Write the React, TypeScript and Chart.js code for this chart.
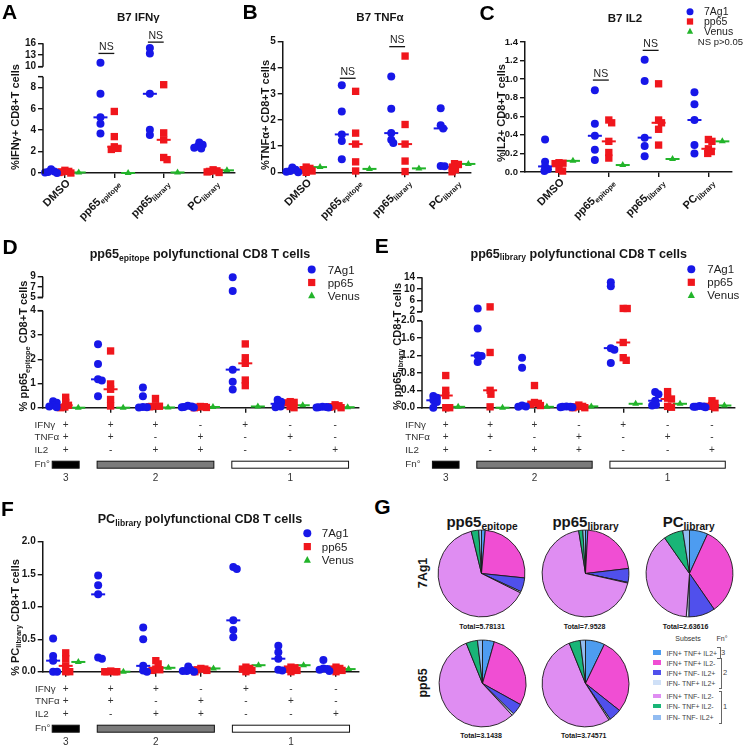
import React, { useEffect, useRef } from 'react';
import { Chart, registerables } from 'chart.js';
Chart.register(...registerables);

const FONT = '"Liberation Sans", Arial, Helvetica, sans-serif';
const INK = '#161616';
const BLUE = '#1717e8';
const RED = '#f0161c';
const GREEN = '#22b42a';

// ---------------- data ----------------
const seriesNames = ['7Ag1', 'pp65', 'Venus'];
const stimuli = ['DMSO', 'pp65~epitope~', 'pp65~library~', 'PC~library~'];

// Panel A – IFNγ
const ifngAg = [[0.35, 0.15, 0.1, 0.05, 0.0], [11.0, 7.4, 5.2, 4.6, 3.7], [14.8, 13.4, 7.4, 4.05, 3.55], [2.85, 2.65, 2.5, 2.35, 2.3]];
const ifngPp = [[0.25, 0.15, 0.1, 0.05, 0.0], [5.75, 3.4, 2.45, 2.3, 2.2], [8.25, 3.75, 3.1, 1.45, 1.25], [0.3, 0.2, 0.15, 0.1, 0.05]];
const ifngVe = [0.05, 0.0, 0.05, 0.25];
const nsIfng = [13.4, 16.3];
// Panel B – TNFα
const tnfAg = [[0.18, 0.1, 0.05, 0.02, 0.0], [3.33, 2.33, 1.45, 1.2, 0.5], [3.67, 2.43, 1.5, 1.25, 1.12], [2.45, 1.8, 1.68, 0.24, 0.23]];
const tnfPp = [[0.2, 0.15, 0.1, 0.05, 0.0], [3.1, 1.5, 1.08, 0.4, 0.05], [4.45, 1.83, 1.08, 0.43, 0.03], [0.33, 0.3, 0.2, 0.1, 0.02]];
const tnfVe = [0.2, 0.13, 0.15, 0.32];
const nsTnf = [3.6, 4.81];
// Panel C – IL2
const il2Ag = [[0.35, 0.11, 0.06, 0.03, 0.01], [0.88, 0.52, 0.39, 0.24, 0.13], [1.21, 0.98, 0.37, 0.28, 0.17], [0.86, 0.73, 0.56, 0.29, 0.2]];
const il2Pp = [[0.1, 0.095, 0.09, 0.03, 0.01], [0.56, 0.53, 0.33, 0.21, 0.15], [0.95, 0.56, 0.53, 0.46, 0.29], [0.35, 0.33, 0.25, 0.22, 0.2]];
const il2Ve = [0.12, 0.075, 0.14, 0.33];
const nsIl2 = [0.99, 1.31];

// subsets (panels D–F)
const subsetIFNg = ['+', '+', '+', '-', '+', '-', '-'];
const subsetTNFa = ['+', '+', '-', '+', '-', '+', '-'];
const subsetIL2 = ['+', '-', '+', '+', '-', '-', '+'];
const fnGroups = [
  { label: '3', from: 0, to: 0, fill: '#000000' },
  { label: '2', from: 1, to: 3, fill: '#7b7b7b' },
  { label: '1', from: 4, to: 6, fill: '#ffffff' },
];

// Panel D – pp65 epitope
const epiAg = [[0.27, 0.2, 0.1, 0.05, 0.02], [2.62, 1.8, 1.17, 1.12, 0.47], [0.83, 0.47, 0.03, 0.02, 0.01], [0.08, 0.05, 0.03, 0.02, 0.01], [8.9, 6.2, 1.57, 1.07, 0.75], [0.33, 0.25, 0.16, 0.05, 0.02], [0.04, 0.03, 0.02, 0.01, 0.01]];
const epiPp = [[0.43, 0.22, 0.1, 0.03, 0.0], [2.34, 0.98, 0.76, 0.34, 0.07], [0.38, 0.08, 0.06, 0.05, 0.04], [0.05, 0.04, 0.02, 0.01, 0.0], [2.63, 2.06, 1.83, 1.14, 0.91], [0.25, 0.22, 0.2, 0.05, 0.0], [0.12, 0.08, 0.04, 0.02, 0.0]];
const epiVe = [0.0, 0.0, 0.01, 0.03, 0.05, 0.1, 0.02];
// Panel E – pp65 library
const libAg = [[0.27, 0.23, 0.17, 0.13, 0.0], [3.15, 1.82, 1.2, 1.19, 1.05], [1.15, 0.92, 0.05, 0.03, 0.02], [0.03, 0.02, 0.02, 0.01, 0.01], [12.3, 10.9, 1.37, 1.33, 1.03], [0.36, 0.31, 0.16, 0.07, 0.05], [0.04, 0.03, 0.02, 0.02, 0.01]];
const libPp = [[0.74, 0.4, 0.28, 0.0, 0.0], [3.7, 1.27, 0.4, 0.31, 0.02], [0.51, 0.12, 0.1, 0.08, 0.05], [0.06, 0.03, 0.02, 0.0, 0.0], [3.15, 3.12, 1.5, 1.15, 1.09], [0.37, 0.22, 0.2, 0.03, 0.01], [0.16, 0.1, 0.05, 0.03, 0.0]];
const libVe = [0.02, 0.0, 0.02, 0.03, 0.09, 0.09, 0.05];
// Panel F – PC library
const pcAg = [[0.51, 0.24, 0.17, 0.0, 0.0], [1.48, 1.33, 1.19, 0.22, 0.2], [0.68, 0.5, 0.09, 0.02, 0.0], [0.08, 0.03, 0.01, 0.01, 0.0], [1.61, 1.58, 0.79, 0.64, 0.53], [0.4, 0.3, 0.2, 0.03, 0.02], [0.18, 0.05, 0.04, 0.03, 0.01]];
const pcPp = [[0.29, 0.2, 0.09, 0.0, 0.0], [0.01, 0.0, 0.0, 0.0, 0.0], [0.17, 0.12, 0.04, 0.03, 0.02], [0.05, 0.04, 0.03, 0.02, 0.0], [0.07, 0.05, 0.04, 0.02, 0.0], [0.07, 0.06, 0.04, 0.02, 0.0], [0.07, 0.05, 0.04, 0.02, 0.0]];
const pcVe = [0.15, 0.0, 0.06, 0.05, 0.1, 0.1, 0.04];

// Panel G – pies
const subsetNames = ['IFN+ TNF+ IL2+', 'IFN+ TNF+ IL2-', 'IFN+ TNF- IL2+', 'IFN- TNF+ IL2+', 'IFN+ TNF- IL2-', 'IFN- TNF+ IL2-', 'IFN- TNF- IL2+'];
const subsetColors = ['#4d9cf0', '#f04ed3', '#5050ec', '#cfe0f7', '#df8df2', '#19b577', '#92bcf1'];
const pieEpiAg = [0.08, 1.46, 0.3, 0.03, 3.69, 0.16, 0.06];
const pieLibAg = [0.07, 1.77, 0.41, 0.02, 5.48, 0.12, 0.08];
const piePcAg = [0.18, 0.885, 0.26, 0.025, 1.03, 0.19, 0.066];
const pieEpiPp = [0.138, 0.901, 0.134, 0.023, 1.755, 0.134, 0.058];
const pieLibPp = [0.268, 1.068, 0.176, 0.021, 1.984, 0.156, 0.073];
const pieTotals = ['Total=5.78131', 'Total=7.9528', 'Total=2.63616', 'Total=3.1438', 'Total=3.74571'];

// y ticks
const ticksIfngLow = [0, 2, 4, 6, 8];
const ticksIfngHigh = [10, 13, 16];
const ticksTnf = [0, 1, 2, 3, 4, 5];
const ticksIl2 = [0, 0.2, 0.4, 0.6, 0.8, 1.0, 1.2, 1.4];
const ticksEpiLow = [0, 1, 2, 3, 4];
const ticksEpiHigh = [5, 7, 9];
const ticksLibLow = [0, 0.4, 0.8, 1.2, 1.6, 2.0];
const ticksLibHigh = [2, 6, 10, 14];
const ticksPc = [0, 0.5, 1.0, 1.5, 2.0];

// ---------------- helpers ----------------
function median(a: number[]) {
  const s = [...a].sort((x, y) => x - y);
  const m = s.length >> 1;
  return s.length % 2 ? s[m] : (s[m - 1] + s[m]) / 2;
}

// beeswarm-style horizontal spreading of overlapping points (pixel units)
function swarm(ys: number[], d: number, maxDx: number): number[] {
  const out = new Array(ys.length).fill(0);
  const order = ys.map((_, i) => i).sort((i, j) => ys[j] - ys[i]);
  const placed: { x: number; y: number }[] = [];
  for (const i of order) {
    const y = ys[i];
    const cands = [0];
    for (const p of placed) {
      const dy = Math.abs(p.y - y);
      if (dy < d) {
        const w = Math.sqrt(d * d - dy * dy);
        cands.push(p.x + w, p.x - w);
      }
    }
    cands.sort((a, b) => Math.abs(a) - Math.abs(b));
    const ok = cands.find((cx) => placed.every((p) => Math.hypot(p.x - cx, p.y - y) >= d - 0.01));
    let v = ok === undefined ? 0 : ok;
    v = Math.max(-maxDx, Math.min(maxDx, v));
    out[i] = v;
    placed.push({ x: v, y });
  }
  return out;
}

function txt(ctx: any, s: string, x: number, y: number, size: number, weight: string, align: string, color = INK) {
  const segs = s.split('~').map((t, i) => ({ t, sub: i % 2 === 1 })).filter((p) => p.t.length);
  const fontOf = (sub: boolean) => `${weight} ${sub ? size * 0.68 : size}px ${FONT}`;
  const ws = segs.map((sg) => {
    ctx.font = fontOf(sg.sub);
    return ctx.measureText(sg.t).width;
  });
  const tot = ws.reduce((a, b) => a + b, 0);
  let cx = align === 'left' ? x : align === 'center' ? x - tot / 2 : x - tot;
  ctx.fillStyle = color;
  ctx.textAlign = 'left';
  ctx.textBaseline = 'alphabetic';
  const base = y + size * 0.36;
  segs.forEach((sg, i) => {
    ctx.font = fontOf(sg.sub);
    ctx.fillText(sg.t, cx, sg.sub ? base + size * 0.22 : base);
    cx += ws[i];
  });
}

function seg(ctx: any, x1: number, y1: number, x2: number, y2: number) {
  ctx.beginPath();
  ctx.moveTo(x1, y1);
  ctx.lineTo(x2, y2);
  ctx.stroke();
}

function marker(ctx: any, style: string, x: number, y: number, color: string, s: number) {
  ctx.fillStyle = color;
  ctx.beginPath();
  if (style === 'circle') ctx.arc(x, y, s * 0.5, 0, Math.PI * 2);
  else if (style === 'rect') ctx.rect(x - s * 0.45, y - s * 0.45, s * 0.9, s * 0.9);
  else {
    ctx.moveTo(x, y - s * 0.5);
    ctx.lineTo(x + s * 0.45, y + s * 0.35);
    ctx.lineTo(x - s * 0.45, y + s * 0.35);
    ctx.closePath();
  }
  ctx.fill();
}

type Brk = { lowMax: number; highMin: number; gap: number; k: number };
type Cfg = {
  x: number; y: number; w: number; h: number;
  area: { l: number; r: number; t: number; b: number };
  xMin: number; xMax: number; yMax: number; brk?: Brk;
  ticksLow: number[]; decLow: number; ticksHigh?: number[]; decHigh?: number; tickSize?: number;
  blue: number[][]; red: number[][]; green: number[];
  letter: [string, number, number];
  title: [string, number, number, number];
  yTitle: [string, number, number];
  cats?: string[]; ns?: number[]; tableX?: number;
  legend?: { x: number; y: number; dy: number; size: number; tx: number; mk: number; note?: [string, number, number] };
};

const STYLES = [
  { color: BLUE, style: 'circle', r: 4 },
  { color: RED, style: 'rect', r: 5.2 },
  { color: GREEN, style: 'triangle', r: 4 },
];

function makeChart(canvas: HTMLCanvasElement, c: Cfg) {
  const fH = (v: number) => (c.brk ? c.brk.lowMax + c.brk.gap + (v - c.brk.highMin) * c.brk.k : v);
  const f = (v: number) => (!c.brk || v <= c.brk.lowMax ? v : fH(v));
  const yTop = c.brk ? fH(c.yMax) : c.yMax;
  const aL = c.area.l - c.x, aR = c.area.r - c.x, aT = c.area.t - c.y, aB = c.area.b - c.y;
  const pxY = (aB - aT) / yTop;
  const pxX = (aR - aL) / (c.xMax - c.xMin);
  const tickVals = [...c.ticksLow, ...(c.ticksHigh || []).map(fH)];
  const tickLabels = [...c.ticksLow.map((v) => v.toFixed(c.decLow)), ...(c.ticksHigh || []).map((v) => v.toFixed(c.decHigh || 0))];
  const nCats = c.blue.length;
  const offs = [-0.28, 0, 0.28];

  const datasets: any[] = [];
  [c.blue, c.red, c.green.map((v) => [v])].forEach((grp, si) => {
    const pts: any[] = [];
    const meds: any[] = [];
    grp.forEach((vals, ci) => {
      const jit = swarm(vals.map((v) => f(v) * pxY), 4, 6);
      vals.forEach((v, k) => pts.push({ x: ci + offs[si] + jit[k] / pxX, y: f(v) }));
      meds.push({ x: ci + offs[si], y: f(median(vals)) });
    });
    const st = STYLES[si];
    datasets.push({
      label: seriesNames[si], data: pts, pointStyle: st.style, pointRadius: st.r, pointHoverRadius: st.r,
      pointBackgroundColor: st.color, pointBorderColor: st.color, pointBorderWidth: 0, clip: false,
    });
    datasets.push({
      label: seriesNames[si] + ' median', data: meds, pointStyle: 'line', pointRadius: 7, pointHoverRadius: 7,
      pointBackgroundColor: st.color, pointBorderColor: st.color, pointBorderWidth: 2, clip: false,
    });
  });

  const deco = {
    id: 'deco',
    afterDraw(chart: any) {
      const ctx = chart.ctx;
      const xs = chart.scales.x;
      const ys = chart.scales.y;
      const X = (v: number) => v - c.x;
      const Y = (v: number) => v - c.y;
      const L = chart.chartArea.left;
      const bot = chart.chartArea.bottom;
      ctx.save();
      ctx.strokeStyle = INK;
      ctx.lineWidth = 1.5;
      if (c.brk) {
        const y0 = ys.getPixelForValue(0) + 0.75;
        const y1 = ys.getPixelForValue(c.brk.lowMax);
        const y2 = ys.getPixelForValue(fH(c.brk.highMin));
        const y3 = ys.getPixelForValue(yTop);
        seg(ctx, L, y0, L, y1);
        seg(ctx, L, y2, L, y3);
        seg(ctx, L - 5, y1, L, y1);
        seg(ctx, L - 5, y2, L, y2);
      }
      txt(ctx, c.letter[0], X(c.letter[1]), Y(c.letter[2]), 21, 'bold', 'center', '#000');
      txt(ctx, c.title[0], X(c.title[1]), Y(c.title[2]), c.title[3], 'bold', 'center');
      ctx.save();
      ctx.translate(X(c.yTitle[1]), Y(c.yTitle[2]));
      ctx.rotate(-Math.PI / 2);
      txt(ctx, c.yTitle[0], 0, 0, 11, 'bold', 'center');
      ctx.restore();
      if (c.cats) {
        c.cats.forEach((s, i) => {
          const px = xs.getPixelForValue(i);
          ctx.save();
          ctx.translate(px + 3, bot + 8);
          ctx.rotate(-Math.PI / 4);
          txt(ctx, s, 0, 0, 11, 'bold', 'right');
          ctx.restore();
        });
      }
      if (c.ns) {
        ctx.lineWidth = 1.3;
        c.ns.forEach((v, j) => {
          const cat = j + 1;
          const x1 = xs.getPixelForValue(cat - 0.32);
          const x2 = xs.getPixelForValue(cat);
          const py = ys.getPixelForValue(f(v));
          seg(ctx, x1, py, x2, py);
          txt(ctx, 'NS', (x1 + x2) / 2, py - 7, 10.5, 'normal', 'center', '#222');
        });
      }
      if (c.tableX !== undefined) {
        const rows: [string, string[]][] = [['IFNγ', subsetIFNg], ['TNFα', subsetTNFa], ['IL2', subsetIL2]];
        const rowY = [16.3, 28.8, 41.6];
        rows.forEach(([lab, signs], r) => {
          const yy = bot + rowY[r];
          txt(ctx, lab, X(c.tableX as number), yy, 9.8, 'normal', 'left', '#333');
          signs.forEach((s, i) => txt(ctx, s, xs.getPixelForValue(i), yy, 10, 'normal', 'center', '#333'));
        });
        txt(ctx, 'Fn°', X(c.tableX as number), bot + 56, 9.8, 'normal', 'left', '#333');
        fnGroups.forEach((g) => {
          const x1 = xs.getPixelForValue(g.from - 0.3);
          const x2 = xs.getPixelForValue(g.to + 0.3);
          ctx.fillStyle = g.fill;
          ctx.fillRect(x1, bot + 53.5, x2 - x1, 7);
          ctx.lineWidth = 1;
          ctx.strokeStyle = '#111';
          ctx.strokeRect(x1, bot + 53.5, x2 - x1, 7);
          txt(ctx, g.label, xs.getPixelForValue((g.from + g.to) / 2), bot + 69.5, 10, 'normal', 'center', '#333');
        });
      }
      if (c.legend) {
        const lg = c.legend;
        seriesNames.forEach((n, i) => {
          const yy = Y(lg.y + i * lg.dy);
          marker(ctx, STYLES[i].style, X(lg.x), yy, STYLES[i].color, lg.mk);
          txt(ctx, n, X(lg.x + lg.tx), yy, lg.size, 'normal', 'left', '#222');
        });
        if (lg.note) txt(ctx, lg.note[0], X(lg.note[1]), Y(lg.note[2]), 9.5, 'normal', 'right', '#222');
      }
      ctx.restore();
    },
  };

  return new Chart(canvas, {
    type: 'scatter',
    data: { datasets },
    options: {
      animation: false,
      responsive: false,
      maintainAspectRatio: false,
      events: [],
      layout: { padding: { left: 0, top: aT, right: c.w - aR, bottom: 0 } },
      plugins: { legend: { display: false }, tooltip: { enabled: false } },
      scales: {
        x: {
          type: 'linear', min: c.xMin, max: c.xMax,
          afterBuildTicks: (s: any) => { s.ticks = Array.from({ length: nCats }, (_, i) => ({ value: i })); },
          afterFit: (s: any) => { s.height = c.h - aB; },
          ticks: { display: false },
          grid: { display: true, drawOnChartArea: false, drawTicks: true, tickLength: 5, color: INK, lineWidth: 1.4 },
          border: { display: true, color: INK, width: 1.5 },
        },
        y: {
          type: 'linear', min: 0, max: yTop,
          afterBuildTicks: (s: any) => { s.ticks = tickVals.map((v) => ({ value: v })); },
          afterFit: (s: any) => { s.width = aL; },
          ticks: {
            autoSkip: false, padding: 2, color: INK,
            font: { family: FONT, size: c.tickSize || 10, weight: 'bold' },
            callback: (_v: any, i: number) => tickLabels[i],
          },
          grid: { display: true, drawOnChartArea: false, drawTicks: true, tickLength: 5, color: INK, lineWidth: 1.4 },
          border: { display: !c.brk, color: INK, width: 1.5 },
        },
      },
    } as any,
    plugins: [deco],
  } as any);
}

const panels: Cfg[] = [
  {
    x: 0, y: 0, w: 244, h: 222, area: { l: 43, r: 236, t: 43.3, b: 173 },
    xMin: -0.443, xMax: 3.443, yMax: 16, brk: { lowMax: 9, highMin: 10, gap: 0.935, k: 0.364 },
    ticksLow: ticksIfngLow, decLow: 0, ticksHigh: ticksIfngHigh, decHigh: 0,
    blue: ifngAg, red: ifngPp, green: ifngVe,
    letter: ['A', 9.5, 11], title: ['B7 IFNγ', 138.3, 17.3, 11.5], yTitle: ['%IFNγ+ CD8+T cells', 15, 117],
    cats: stimuli, ns: nsIfng,
  },
  {
    x: 244, y: 0, w: 236, h: 222, area: { l: 282.7, r: 475, t: 41.7, b: 172.3 },
    xMin: -0.475, xMax: 3.333, yMax: 5,
    ticksLow: ticksTnf, decLow: 0,
    blue: tnfAg, red: tnfPp, green: tnfVe,
    letter: ['B', 250, 11], title: ['B7 TNFα', 380, 17, 11.5], yTitle: ['%TNFα+ CD8+T cells', 265, 115],
    cats: stimuli, ns: nsTnf,
  },
  {
    x: 480, y: 0, w: 264, h: 222, area: { l: 525, r: 731.7, t: 42, b: 172 },
    xMin: -0.683, xMax: 3.468, yMax: 1.4,
    ticksLow: ticksIl2, decLow: 1, tickSize: 9.5,
    blue: il2Ag, red: il2Pp, green: il2Ve,
    letter: ['C', 487, 12], title: ['B7 IL2', 625, 18.3, 11.5], yTitle: ['%IL2+ CD8+T cells', 501.5, 113],
    cats: stimuli, ns: nsIl2,
    legend: { x: 690, y: 11.7, dy: 9.8, size: 10.5, tx: 14, mk: 7, note: ['NS p>0.05', 743, 41.7] },
  },
  {
    x: 0, y: 230, w: 372, h: 256, area: { l: 42.7, r: 358.3, t: 276.7, b: 407.7 },
    xMin: -0.512, xMax: 6.517, yMax: 9, brk: { lowMax: 4, highMin: 5, gap: 0.553, k: 0.2124 },
    ticksLow: ticksEpiLow, decLow: 0, ticksHigh: ticksEpiHigh, decHigh: 0,
    blue: epiAg, red: epiPp, green: epiVe,
    letter: ['D', 10, 246.7], title: ['pp65~epitope~ polyfunctional CD8 T cells', 200, 253.3, 12.6],
    yTitle: ['% pp65~epitope~ CD8+T cells', 23.3, 346], tableX: 34.5,
    legend: { x: 311.7, y: 269.5, dy: 13, size: 11.5, tx: 16, mk: 8 },
  },
  {
    x: 372, y: 230, w: 372, h: 256, area: { l: 422, r: 738.7, t: 277.3, b: 407.7 },
    xMin: -0.535, xMax: 6.519, yMax: 14, brk: { lowMax: 2, highMin: 2, gap: 0.207, k: 0.066 },
    ticksLow: ticksLibLow, decLow: 1, ticksHigh: ticksLibHigh, decHigh: 0,
    blue: libAg, red: libPp, green: libVe,
    letter: ['E', 381.8, 245], title: ['pp65~library~ polyfunctional CD8 T cells', 578.7, 253, 12.6],
    yTitle: ['% pp65~library~ CD8+T cells', 397, 346.5], tableX: 405.3,
    legend: { x: 691.3, y: 269.3, dy: 13, size: 11.5, tx: 16, mk: 8 },
  },
  {
    x: 0, y: 488, w: 372, h: 258, area: { l: 42.7, r: 358.3, t: 541.7, b: 671.7 },
    xMin: -0.511, xMax: 6.495, yMax: 2,
    ticksLow: ticksPc, decLow: 1,
    blue: pcAg, red: pcPp, green: pcVe,
    letter: ['F', 7.5, 508.3], title: ['PC~library~ polyfunctional CD8 T cells', 200, 518.3, 12.6],
    yTitle: ['% PC~library~ CD8+T cells', 15, 617.5], tableX: 35,
    legend: { x: 307.3, y: 533.3, dy: 13.3, size: 11.5, tx: 14.5, mk: 8 },
  },
];

function ScatterPanel({ cfg }: { cfg: Cfg }) {
  const ref = useRef<HTMLCanvasElement>(null);
  useEffect(() => {
    const ch = makeChart(ref.current as HTMLCanvasElement, cfg);
    return () => ch.destroy();
  }, []);
  return (
    <canvas ref={ref} width={cfg.w} height={cfg.h}
      style={{ position: 'absolute', left: cfg.x, top: cfg.y, width: cfg.w, height: cfg.h, display: 'block' }} />
  );
}

function PieChart({ cx, cy, r, values }: { cx: number; cy: number; r: number; values: number[] }) {
  const ref = useRef<HTMLCanvasElement>(null);
  const size = Math.ceil(2 * r + 6);
  useEffect(() => {
    const ch = new Chart(ref.current as HTMLCanvasElement, {
      type: 'pie',
      data: {
        labels: subsetNames,
        datasets: [{ data: values, backgroundColor: subsetColors, borderColor: '#1a1a1a', borderWidth: 0.9 }],
      },
      options: {
        animation: false, responsive: false, events: [], radius: r,
        layout: { padding: 0 },
        plugins: { legend: { display: false }, tooltip: { enabled: false } },
      } as any,
    });
    return () => ch.destroy();
  }, []);
  return (
    <canvas ref={ref} width={size} height={size}
      style={{ position: 'absolute', left: cx - size / 2, top: cy - size / 2, width: size, height: size, display: 'block' }} />
  );
}

function T({ x, y, size, bold = false, rot = 0, color = INK, left = false, children }: any) {
  return (
    <div style={{
      position: 'absolute', left: x, top: y,
      transform: `translate(${left ? '0' : '-50%'}, -50%) rotate(${rot}deg)`,
      fontFamily: FONT, fontSize: size, fontWeight: bold ? 700 : 400, color,
      whiteSpace: 'nowrap', lineHeight: 1,
    }}>{children}</div>
  );
}

const Sub = ({ children }: any) => (
  <span style={{ fontSize: '0.68em', position: 'relative', top: '0.28em' }}>{children}</span>
);

function PanelG() {
  const pies = [
    { cx: 481.7, cy: 573.3, v: pieEpiAg },
    { cx: 585.7, cy: 573.3, v: pieLibAg },
    { cx: 689.3, cy: 573.3, v: piePcAg },
    { cx: 482, cy: 683, v: pieEpiPp },
    { cx: 585.8, cy: 683, v: pieLibPp },
  ];
  const totalPos = [[482, 625.5], [584.5, 625.5], [685.5, 626], [481, 735], [583.7, 735]];
  const rowsY = [652.5, 662.5, 672.7, 682.7, 696, 706, 717.3];
  return (
    <>
      <T x={382.5} y={505.7} size={21} bold color="#000">G</T>
      <T x={482} y={522} size={15} bold>pp65<Sub>epitope</Sub></T>
      <T x={585.5} y={522} size={15} bold>pp65<Sub>library</Sub></T>
      <T x={688.7} y={522} size={15} bold>PC<Sub>library</Sub></T>
      <T x={423} y={573} size={12.5} bold rot={-90}>{seriesNames[0]}</T>
      <T x={423} y={683} size={12.5} bold rot={-90}>{seriesNames[1]}</T>
      {pies.map((p, i) => <PieChart key={i} cx={p.cx} cy={p.cy} r={43.4} values={p.v} />)}
      {pieTotals.map((t, i) => <T key={i} x={totalPos[i][0]} y={totalPos[i][1]} size={7} bold>{t}</T>)}
      <T x={688} y={637.5} size={7} color="#333">Subsets</T>
      <T x={722} y={637.5} size={7} color="#333">Fn°</T>
      {subsetNames.map((n, i) => (
        <React.Fragment key={i}>
          <div style={{ position: 'absolute', left: 652.7, top: rowsY[i] - 2.3, width: 8, height: 4.6, background: subsetColors[i] }} />
          <T x={666.5} y={rowsY[i]} size={7} color="#444" left>{n}</T>
        </React.Fragment>
      ))}
      <div style={{ position: 'absolute', left: 717, top: 647, width: 2.5, height: 10, borderTop: '1px solid #666', borderRight: '1px solid #666', borderBottom: '1px solid #666' }} />
      <T x={723} y={652.5} size={7.5} color="#444">{fnGroups[0].label}</T>
      <div style={{ position: 'absolute', left: 718.5, top: 658, width: 2.5, height: 29, borderTop: '1px solid #666', borderRight: '1px solid #666', borderBottom: '1px solid #666' }} />
      <T x={725} y={673} size={7.5} color="#444">{fnGroups[1].label}</T>
      <div style={{ position: 'absolute', left: 718.5, top: 691, width: 2.5, height: 30.5, borderTop: '1px solid #666', borderRight: '1px solid #666', borderBottom: '1px solid #666' }} />
      <T x={725} y={706.5} size={7.5} color="#444">{fnGroups[2].label}</T>
    </>
  );
}

export default function App() {
  return (
    <div style={{ position: 'absolute', left: 0, top: 0, width: 744, height: 746, background: '#fff', overflow: 'hidden' }}>
      {panels.map((p, i) => <ScatterPanel key={i} cfg={p} />)}
      <PanelG />
    </div>
  );
}
